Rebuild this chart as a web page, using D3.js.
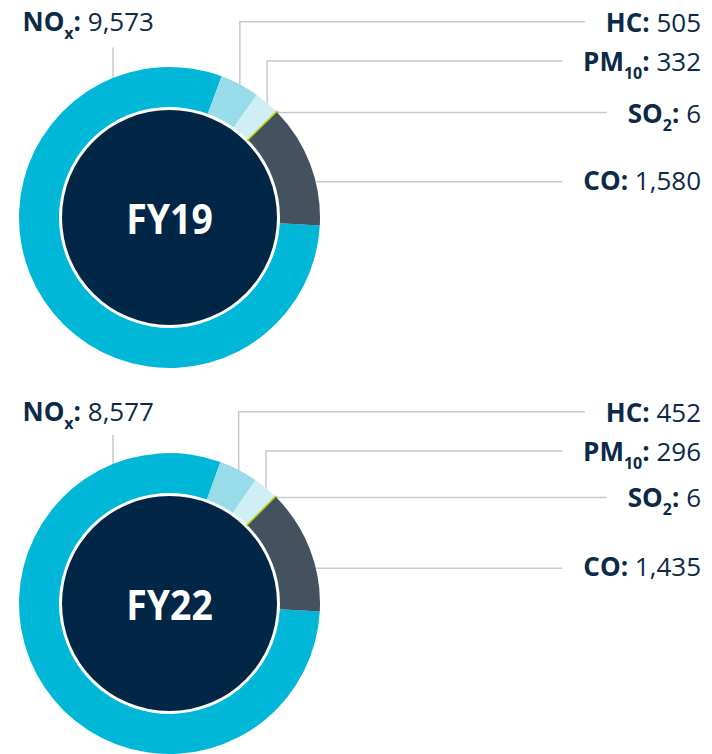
<!DOCTYPE html>
<html>
<head>
<meta charset="utf-8">
<script src="https://cdn.jsdelivr.net/npm/d3@7"></script>
<style>
  html, body { margin: 0; padding: 0; background: #fff; }
  svg { display: block; font-family: 'Open Sans', sans-serif; }
</style>
</head>
<body>
<svg id="chart" width="712" height="754"></svg>
<script>
// emissions by pollutant, tonnes
const pollutants = ['NOx', 'HC', 'PM10', 'SO2', 'CO']
const labelMain = ['NO', 'HC', 'PM', 'SO', 'CO']
const labelSub = ['x', '', '10', '2', '']
const years = ['FY19', 'FY22']
const fy19Values = [9573, 505, 332, 6, 1580]
const fy22Values = [8577, 452, 296, 6, 1435]

const colours = ['#00b7d7', '#98dce9', '#cfeef5', '#c8d400', '#44525f']
const TEXT = '#0b2a47'
const LEADER = '#c3cad4'

const CX = 169.5
const R_OUT = 150.5
const R_IN = 110.5
const R_CORE = 107.5
const LABEL_RIGHT = 701

// per panel: centre y and leader rows (relative to centre)
const panels = [
  { year: years[0], values: fy19Values, cy: 217.5, noxBase: -187, noxLineTop: -170, hc: -195.8, pm: -156.5, co: -35.8 },
  { year: years[1], values: fy22Values, cy: 603.5, noxBase: -183, noxLineTop: -168.5, hc: -191.8, pm: -152.5, co: -35.2 },
]

const svg = d3.select('#chart')

const start = (93 * Math.PI) / 180
const pie = d3.pie().sort(null).startAngle(start).endAngle(start + 2 * Math.PI)
const arc = d3.arc().innerRadius(R_IN).outerRadius(R_OUT)

const writeLabel = (g, i, value, x, y, anchor) => {
  const t = g.append('text')
    .attr('x', x)
    .attr('y', y)
    .attr('text-anchor', anchor)
    .attr('fill', TEXT)
    .style('font-size', '26px')

  t.append('tspan').attr('font-weight', 700).text(labelMain[i])
  if (labelSub[i]) {
    t.append('tspan').attr('font-weight', 700).attr('dy', 8).style('font-size', '16px').text(labelSub[i])
    t.append('tspan').attr('font-weight', 700).attr('dy', -8).text(':')
  } else {
    t.append('tspan').attr('font-weight', 700).text(':')
  }
  t.append('tspan').attr('font-weight', 400).text(' ' + d3.format(',')(value))
  return t
}

const outerPoint = (angle, cy) => [CX + R_OUT * Math.sin(angle), cy - R_OUT * Math.cos(angle)]

panels.forEach((p) => {
  const g = svg.append('g')
  const arcs = pie(p.values)
  const mid = (d) => (d.startAngle + d.endAngle) / 2

  // leader lines first so the ring sits over them
  const leaders = g.append('g').attr('stroke', LEADER).attr('stroke-width', 1.5).attr('fill', 'none')

  // NOx: straight up from the ring to the label
  const noxX = 113
  const noxRingY = p.cy - Math.sqrt(R_OUT * R_OUT - (noxX - CX) * (noxX - CX))
  leaders.append('line').attr('x1', noxX).attr('x2', noxX).attr('y1', p.cy + p.noxLineTop).attr('y2', noxRingY + 2)
  writeLabel(g, 0, p.values[0], 22.5, p.cy + p.noxBase, 'start')

  // HC and PM10: elbow from the middle of the slice
  ;[[1, p.hc], [2, p.pm]].forEach(([i, row]) => {
    const [px, py] = outerPoint(mid(arcs[i]), p.cy)
    const y = p.cy + row
    const t = writeLabel(g, i, p.values[i], LABEL_RIGHT, y + 10, 'end')
    const x2 = t.node().getBBox().x - 21
    leaders.append('path').attr('d', `M${px},${py + 2}V${y}H${x2}`)
  })

  // SO2: flat line from the sliver
  {
    const [px, py] = outerPoint(mid(arcs[3]), p.cy)
    const t = writeLabel(g, 3, p.values[3], LABEL_RIGHT, py + 10.5, 'end')
    const x2 = t.node().getBBox().x - 21
    leaders.append('line').attr('x1', px - 2).attr('x2', x2).attr('y1', py + 0.5).attr('y2', py + 0.5)
  }

  // CO: flat line at a fixed row
  {
    const y = p.cy + p.co
    const x1 = CX + Math.sqrt(R_OUT * R_OUT - p.co * p.co) - 2
    const t = writeLabel(g, 4, p.values[4], LABEL_RIGHT, y + 8, 'end')
    const x2 = t.node().getBBox().x - 21
    leaders.append('line').attr('x1', x1).attr('x2', x2).attr('y1', y).attr('y2', y)
  }

  const ring = g.append('g').attr('transform', `translate(${CX},${p.cy})`)
  ring.selectAll('path')
    .data(arcs)
    .join('path')
    .attr('d', arc)
    .attr('fill', (d, i) => colours[i])
    .attr('stroke', (d, i) => (pollutants[i] === 'SO2' ? colours[i] : 'none'))
    .attr('stroke-width', 2.2)

  ring.append('circle').attr('r', R_CORE).attr('fill', '#022645')

  ring.append('text')
    .attr('text-anchor', 'middle')
    .attr('transform', 'scale(0.89,1)')
    .attr('y', 16)
    .attr('fill', '#fff')
    .attr('font-weight', 700)
    .style('font-size', '42px')
    .text(p.year)
})
</script>
</body>
</html>
